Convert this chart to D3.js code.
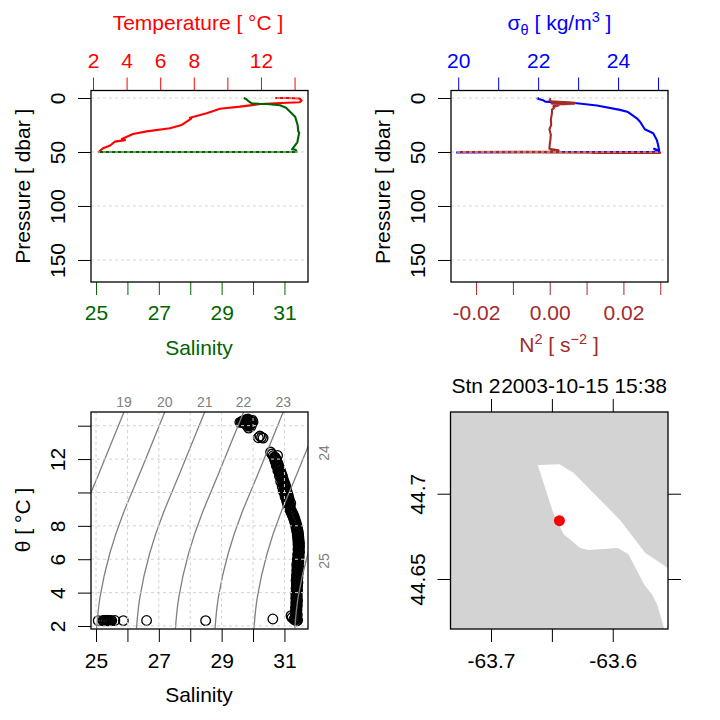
<!DOCTYPE html>
<html><head><meta charset="utf-8">
<script src="https://cdn.jsdelivr.net/npm/d3@7"></script>
<style>html,body{margin:0;padding:0;background:#fff}svg{display:block}text{font-family:"Liberation Sans",Arial,sans-serif}</style>
</head><body><div id="c"></div>
<script>
// ---- profile data ----
const tempPressure = [0,0,0.5,2.2,4,4.6,5.6,8,9.9,14.2,18.2,19,25,28,30.9,33.3,38,39,40.4,44,46.6,49.7,50.5];
const temperature  = [12.85,13.6,14.3,14.42,14.3,13.2,11.95,10.75,9.56,8.77,7.77,7.85,7.28,6.58,5.2,4.38,3.72,3.9,3.3,3.02,2.6,2.36,2.3];
const salPressure = [0,1,2.8,5,5.4,5.5,6.7,9,12.8,17.3,25,31,32,41,47.5,48,50,50,50];
const salinity    = [29.7,29.78,29.85,29.96,30.2,30.44,30.86,31.05,31.18,31.34,31.42,31.44,31.47,31.41,31.24,31.36,31.39,28,25.1];
const sigPressure = [0,0.5,2,3.4,4.9,7,11,13,18.8,22,29,32.7,38.9,43,48.8,47,50,50,50.5];
const sigmaTheta  = [22.02,21.98,22.12,22.18,22.97,23.47,24.05,24.25,24.47,24.55,24.67,24.88,24.97,25.0,25.03,24.9,25.03,22,19.95];
const n2Pressure = [0,1.5,3,4.5,5,5.5,6,7,8,9,11,14,20,25,29,34,38,43,47,48.5,49.6,50,50.4,50.8,50.8];
const n2          = [0.0002,0.0,0.0003,0.0069,0.0005,0.0066,0.0010,0.0024,0.0010,0.0012,0.0006,0.0006,0.0003,0.0004,-0.0001,0.0003,0.0002,0.0,-0.0001,0.0024,0.0,-0.0249,0.0,0.0300,0.0115];
// ---- theta-S scatter ----
const tsSalinity = [
 25.07,25.22,25.29,25.35,25.40,25.44,25.50,25.60,25.87,26.61,
 28.49,30.63,31.21,31.24,31.30,31.38,31.42,31.34,31.40,31.36,
 31.37,31.39,31.35,31.41,31.37,31.34,31.39,31.36,31.40,31.38,
 31.35,31.38,31.41,31.37,31.40,31.36,31.39,31.42,31.38,31.36,
 31.40,31.37,31.41,31.39,31.36,31.40,31.38,31.42,31.39,31.37,
 31.41,31.38,31.42,31.40,31.38,31.43,31.40,31.37,31.42,31.39,
 31.43,31.41,31.38,31.43,31.40,31.44,31.41,31.39,31.44,31.42,
 31.40,31.45,31.42,31.39,31.44,31.42,31.46,31.43,31.41,31.46,
 31.43,31.47,31.44,31.42,31.47,31.44,31.48,31.45,31.43,31.47,
 31.44,31.48,31.45,31.43,31.48,31.46,31.43,31.47,31.45,31.42,
 31.46,31.44,31.41,31.45,31.43,31.40,31.44,31.41,31.38,31.42,
 31.39,31.36,31.40,31.37,31.34,31.37,31.34,31.31,31.34,31.31,
 31.28,31.31,31.27,31.24,31.27,31.23,31.20,31.22,31.18,31.15,
 31.18,31.14,31.11,31.13,31.09,31.07,31.09,31.05,31.02,31.04,
 31.00,30.96,30.99,30.93,30.95,30.88,30.91,30.84,30.86,30.79,
 30.82,30.74,30.76,30.70,30.72,30.60,30.56,30.78,30.68,
 30.27,30.17,30.22,30.32,29.58,29.65,29.72,29.80,29.85,29.90,
 29.92,29.84,29.78,29.96,29.88,29.98,30.0,29.94,29.70,29.86,
 31.18,31.15,31.20,31.13,31.16,31.10,31.14,31.08,31.12,31.06,
 31.09,31.03,31.07,31.01,31.05,30.98,31.02,30.96,30.99,30.93,
 30.96,30.90,30.94,30.87,30.91,30.85,30.88,30.81,30.85,30.78,
 30.82,30.75,30.79,30.71,30.75,30.68,30.70,30.64,
 29.62,29.68,29.74,29.82,29.88,29.94,29.76,29.84,29.90,29.68,
 29.80,29.92,29.86,29.74,29.96,29.82,
 25.25,25.31,25.37,25.43,25.47];
const tsTheta = [
 2.32,2.33,2.32,2.34,2.32,2.33,2.32,2.33,2.32,2.33,
 2.32,2.42,2.62,2.50,2.40,2.30,2.34,2.38,2.42,2.46,
 2.50,2.56,2.62,2.68,2.74,2.80,2.86,2.92,2.98,3.04,
 3.10,3.16,3.22,3.28,3.34,3.40,3.46,3.52,3.58,3.64,
 3.70,3.76,3.82,3.88,3.94,4.00,4.06,4.12,4.18,4.24,
 4.30,4.36,4.42,4.48,4.54,4.60,4.66,4.72,4.78,4.84,
 4.90,4.96,5.02,5.08,5.14,5.20,5.26,5.32,5.38,5.44,
 5.50,5.56,5.62,5.68,5.74,5.80,5.86,5.92,5.98,6.04,
 6.10,6.16,6.22,6.28,6.34,6.40,6.46,6.52,6.58,6.64,
 6.70,6.76,6.82,6.88,6.94,7.00,7.06,7.12,7.18,7.24,
 7.30,7.36,7.42,7.48,7.54,7.60,7.66,7.72,7.78,7.84,
 7.90,7.96,8.02,8.08,8.14,8.20,8.26,8.32,8.38,8.44,
 8.50,8.56,8.62,8.68,8.74,8.80,8.86,8.92,8.98,9.04,
 9.10,9.16,9.24,9.32,9.40,9.48,9.56,9.66,9.76,9.86,
 9.96,10.08,10.20,10.35,10.50,10.65,10.80,10.98,11.12,11.30,
 11.45,11.62,11.78,11.92,12.05,12.30,12.42,12.22,12.12,
 13.30,13.28,13.38,13.26,14.20,14.26,14.30,14.36,14.34,14.30,
 14.24,14.18,14.08,14.16,14.00,14.32,14.22,13.96,14.22,13.86,
 9.20,9.28,9.36,9.44,9.52,9.60,9.68,9.76,9.84,9.92,
 10.00,10.08,10.16,10.24,10.32,10.40,10.48,10.56,10.64,10.72,
 10.80,10.88,10.96,11.04,11.12,11.20,11.28,11.36,11.44,11.52,
 11.60,11.68,11.76,11.84,11.92,12.00,12.10,12.20,
 14.22,14.18,14.26,14.28,14.20,14.12,14.34,14.40,14.28,14.30,
 14.38,14.08,14.04,14.14,14.20,13.98,
 2.31,2.33,2.31,2.33,2.32];
// ---- isopycnals, one salinity list per sigma level ----
const isoTheta = [1.86,3.76,6.36,8.76,11.16,14.82];
const isoLabels = [19,20,21,22,23,24,25];
const iso19 = [23.72,23.83,24.14,24.57,25.10,25.89];
const iso20 = [25.02,25.13,25.44,25.87,26.40,27.19];
const iso21 = [26.29,26.40,26.71,27.14,27.67,28.46];
const iso22 = [27.53,27.64,27.95,28.38,28.91,29.70];
const iso23 = [28.79,28.90,29.21,29.64,30.17,30.96];
const iso24 = [30.03,30.14,30.45,30.88,31.41,32.20];
const iso25 = [31.33,31.44,31.75,32.18,32.71,33.50];
const isoSeries = [iso19,iso20,iso21,iso22,iso23,iso24,iso25];
// ---- map ----
const waterLon = [-63.6616,-63.6438,-63.6323,-63.5940,-63.5734,-63.5546,-63.5546,-63.5578,-63.5633,-63.5679,-63.5740,-63.5871,-63.5959,-63.6200,-63.6268,-63.6405,-63.6488];
const waterLat = [44.7168,44.7172,44.7123,44.6846,44.6654,44.6564,44.6207,44.6211,44.6348,44.6412,44.6465,44.6645,44.6682,44.6670,44.6682,44.6764,44.6885];
const stationLon = [-63.6438], stationLat = [44.6842];
// ---- ticks ----
const pressureTicks=[0,50,100,150], salinityTicks=[25,26,27,28,29,30,31], salinityLabels=[25,27,29,31];
const tempTicks=[2,4,6,8,10,12,14], tempLabels=[2,4,6,8,12];
const sigmaTicks=[20,21,22,23,24,25], sigmaLabels=[20,22,24];
const n2Ticks=[-0.02,-0.01,0,0.01,0.02,0.03], n2Labels=[-0.02,0,0.02];
const thetaTicks=[2,4,6,8,10,12,14], thetaLabels=[2,4,6,8,12];
const lonTicks=[-63.7,-63.65,-63.6], lonLabels=[-63.7,-63.6];
const latTicks=[44.65,44.7];

const FS=21, SUB=14.5, TL=13;
const svg=d3.select('#c').append('svg').attr('width',720).attr('height',720);
const X0=91,X1=308,X2=451,X3=668,Y0=90.5,Y1=282,Y2=412,Y3=629;
const sx=r=>d3.scaleLinear().domain([24.84,31.75]).range(r);
function axis(g,gen,color,labelSet,fmt,pad){
  const a=gen.tickSizeOuter(0).tickSize(TL).tickPadding(pad)
    .tickFormat(d=>labelSet.some(v=>Math.abs(v-d)<1e-9)?fmt(d):'');
  const s=g.call(a);
  s.select('.domain').remove();
  s.selectAll('line').attr('stroke',color).attr('stroke-width',1);
  s.selectAll('text').attr('fill',color).attr('font-size',FS).attr('font-family','"Liberation Sans",Arial,sans-serif');
  return s;
}
function rotLeft(s){
  s.selectAll('text').attr('transform',`translate(${-TL-13},0) rotate(-90)`)
    .attr('x',0).attr('dy',0).attr('text-anchor','middle');
}
function frame(x0,x1,y0,y1){svg.append('rect').attr('x',x0).attr('y',y0).attr('width',x1-x0).attr('height',y1-y0).attr('fill','none').attr('stroke','#000').attr('stroke-width',1.3);}
function txt(x,y,s,color,rot){const t=svg.append('text').attr('x',x).attr('y',y).attr('text-anchor','middle').attr('fill',color).attr('font-size',FS).text(s);
  if(rot)t.attr('transform',`rotate(-90 ${x} ${y})`);return t;}
function hgrid(x0,x1,yvals){svg.append('g').selectAll('line').data(yvals).join('line').attr('x1',x0).attr('x2',x1).attr('y1',d=>d).attr('y2',d=>d)
  .attr('stroke','#d3d3d3').attr('stroke-width',1).attr('stroke-dasharray','3,3');}
function vgrid(xvals,y0,y1){svg.append('g').selectAll('line').data(xvals).join('line').attr('y1',y0).attr('y2',y1).attr('x1',d=>d).attr('x2',d=>d)
  .attr('stroke','#d3d3d3').attr('stroke-width',1).attr('stroke-dasharray','3,3');}
function profile(xs,ys,xScale,yScale,color){
  svg.append('path').datum(xs.map((v,i)=>[v,ys[i]])).attr('fill','none').attr('stroke',color).attr('stroke-width',2.1)
   .attr('stroke-linejoin','round').attr('d',d3.line().x(d=>xScale(d[0])).y(d=>yScale(d[1])));
}
const py=d3.scaleLinear().domain([-6.94,170.4]).range([Y0,Y1]);
function pressureAxis(x){
  const s=svg.append('g').attr('transform',`translate(${x},0)`);
  axis(s,d3.axisLeft(py).tickValues(pressureTicks),'#000',pressureTicks,d3.format('d'),0);
  rotLeft(s);
  txt(x-61,(Y0+Y1)/2,'Pressure [ dbar ]','#000',true);
}
// Panel 1
{
 const xS=sx([X0,X1]), xT=d3.scaleLinear().domain([1.88,14.8]).range([X0,X1]);
 profile(temperature,tempPressure,xT,py,'#ff0000');
 profile(salinity,salPressure,xS,py,'#006400');
 hgrid(X0,X1,pressureTicks.map(py));
 pressureAxis(X0);
 axis(svg.append('g').attr('transform',`translate(0,${Y0})`),d3.axisTop(xT).tickValues(tempTicks),'#ff0000',tempLabels,d3.format('d'),10);
 axis(svg.append('g').attr('transform',`translate(0,${Y1})`),d3.axisBottom(xS).tickValues(salinityTicks),'#006400',salinityLabels,d3.format('d'),10);
 frame(X0,X1,Y0,Y1);
 txt(198,29.5,'Temperature [ °C ]','#ff0000');
 txt(199,355,'Salinity','#006400');
}
// Panel 2
{
 const xD=d3.scaleLinear().domain([19.82,25.25]).range([X2,X3]), xN=d3.scaleLinear().domain([-0.0268,0.0321]).range([X2,X3]);
 profile(sigmaTheta,sigPressure,xD,py,'#0000ff');
 profile(n2,n2Pressure,xN,py,'#a52a2a');
 hgrid(X2,X3,pressureTicks.map(py));
 pressureAxis(X2);
 axis(svg.append('g').attr('transform',`translate(0,${Y0})`),d3.axisTop(xD).tickValues(sigmaTicks),'#0000ff',sigmaLabels,d3.format('d'),10);
 axis(svg.append('g').attr('transform',`translate(0,${Y1})`),d3.axisBottom(xN).tickValues(n2Ticks),'#a52a2a',n2Labels,d=>d3.format('.2f')(d).replace('−','-'),10);
 frame(X2,X3,Y0,Y1);
 const t=txt(559.5,30,'','#0000ff');
 t.append('tspan').text('σ');
 t.append('tspan').attr('dy',5).attr('font-size',SUB).text('θ');
 t.append('tspan').attr('dy',-5).text(' [ kg/m');
 t.append('tspan').attr('dy',-8).attr('font-size',SUB).text('3');
 t.append('tspan').attr('dy',8).text(' ]');
 const b=txt(559,352,'','#a52a2a');
 b.append('tspan').text('N');
 b.append('tspan').attr('dy',-8).attr('font-size',SUB).text('2');
 b.append('tspan').attr('dy',8).text(' [ s');
 b.append('tspan').attr('dy',-8).attr('font-size',SUB).text('−2');
 b.append('tspan').attr('dy',8).text(' ]');
}
// Panel 3
{
 const xS=sx([X0,X1]), yT=d3.scaleLinear().domain([1.82,14.82]).range([Y3,Y2]);
 svg.append('clipPath').attr('id','tsclip').append('rect').attr('x',X0).attr('y',Y2).attr('width',X1-X0).attr('height',Y3-Y2);
 const line=d3.line().curve(d3.curveNatural).x(d=>xS(d[0])).y(d=>yT(d[1]));
 svg.append('g').selectAll('circle').data(tsSalinity.map((v,i)=>[v,tsTheta[i]])).join('circle')
   .attr('cx',d=>xS(d[0])).attr('cy',d=>yT(d[1])).attr('r',4.8).attr('fill','none').attr('stroke','#000').attr('stroke-width',1.3);
 svg.append('g').attr('clip-path','url(#tsclip)').selectAll('path').data(isoSeries).join('path')
   .attr('fill','none').attr('stroke','#808080').attr('stroke-width',1.3)
   .attr('d',s=>line(s.map((v,i)=>[v,isoTheta[i]])));
 hgrid(X0,X1,thetaTicks.map(yT));
 vgrid(salinityTicks.map(xS),Y2,Y3);
 const l=svg.append('g').attr('transform',`translate(${X0},0)`);
 axis(l,d3.axisLeft(yT).tickValues(thetaTicks),'#000',thetaLabels,d3.format('d'),0);
 rotLeft(l);
 axis(svg.append('g').attr('transform',`translate(0,${Y3})`),d3.axisBottom(xS).tickValues(salinityTicks),'#000',salinityLabels,d3.format('d'),11);
 frame(X0,X1,Y2,Y3);
 isoLabels.slice(0,5).forEach((lv,i)=>{
   svg.append('text').attr('x',xS(isoSeries[i][5])).attr('y',407).attr('text-anchor','middle').attr('fill','#808080').attr('font-size',14).text(lv);
 });
 [[5,453],[6,561]].forEach(([i,y])=>{
   svg.append('text').attr('transform',`translate(329,${y}) rotate(-90)`).attr('text-anchor','middle').attr('fill','#808080').attr('font-size',14).text(isoLabels[i]);
 });
 txt(30,520,'θ [ °C ]','#000',true);
 txt(199,701.5,'Salinity','#000');
}
// Panel 4
{
 const lx=d3.scaleLinear().domain([-63.7333,-63.5546]).range([X2-0.5,X3]), ly=d3.scaleLinear().domain([44.6207,44.7479]).range([Y3,Y2]);
 svg.append('rect').attr('x',X2-0.5).attr('y',Y2).attr('width',X3-X2+0.5).attr('height',Y3-Y2).attr('fill','#d3d3d3');
 svg.append('path').datum(waterLon.map((v,i)=>[v,waterLat[i]])).attr('fill','#fff')
   .attr('d',d3.line().x(d=>lx(d[0])).y(d=>ly(d[1])).curve(d3.curveLinearClosed));
 svg.append('g').selectAll('circle').data(stationLon.map((v,i)=>[v,stationLat[i]])).join('circle')
   .attr('cx',d=>lx(d[0])).attr('cy',d=>ly(d[1])).attr('r',5.5).attr('fill','#ff0000');
 const f=d=>d3.format('.1f')(d).replace('−','-');
 axis(svg.append('g').attr('transform',`translate(0,${Y3})`),d3.axisBottom(lx).tickValues(lonTicks),'#000',lonLabels,f,11);
 axis(svg.append('g').attr('transform',`translate(0,${Y2})`),d3.axisTop(lx).tickValues(lonTicks),'#000',[],f,10);
 const l=svg.append('g').attr('transform',`translate(${X2-0.5},0)`);
 axis(l,d3.axisLeft(ly).tickValues(latTicks),'#000',latTicks,d=>String(d),0);
 rotLeft(l);
 axis(svg.append('g').attr('transform',`translate(${X3},0)`),d3.axisRight(ly).tickValues(latTicks),'#000',[],String,0);
 frame(X2-0.5,X3,Y2,Y3);
 txt(451.5,393,'Stn 2','#000').attr('text-anchor','start');
 txt(667,393,'2003-10-15 15:38','#000').attr('text-anchor','end');
}
</script></body></html>
